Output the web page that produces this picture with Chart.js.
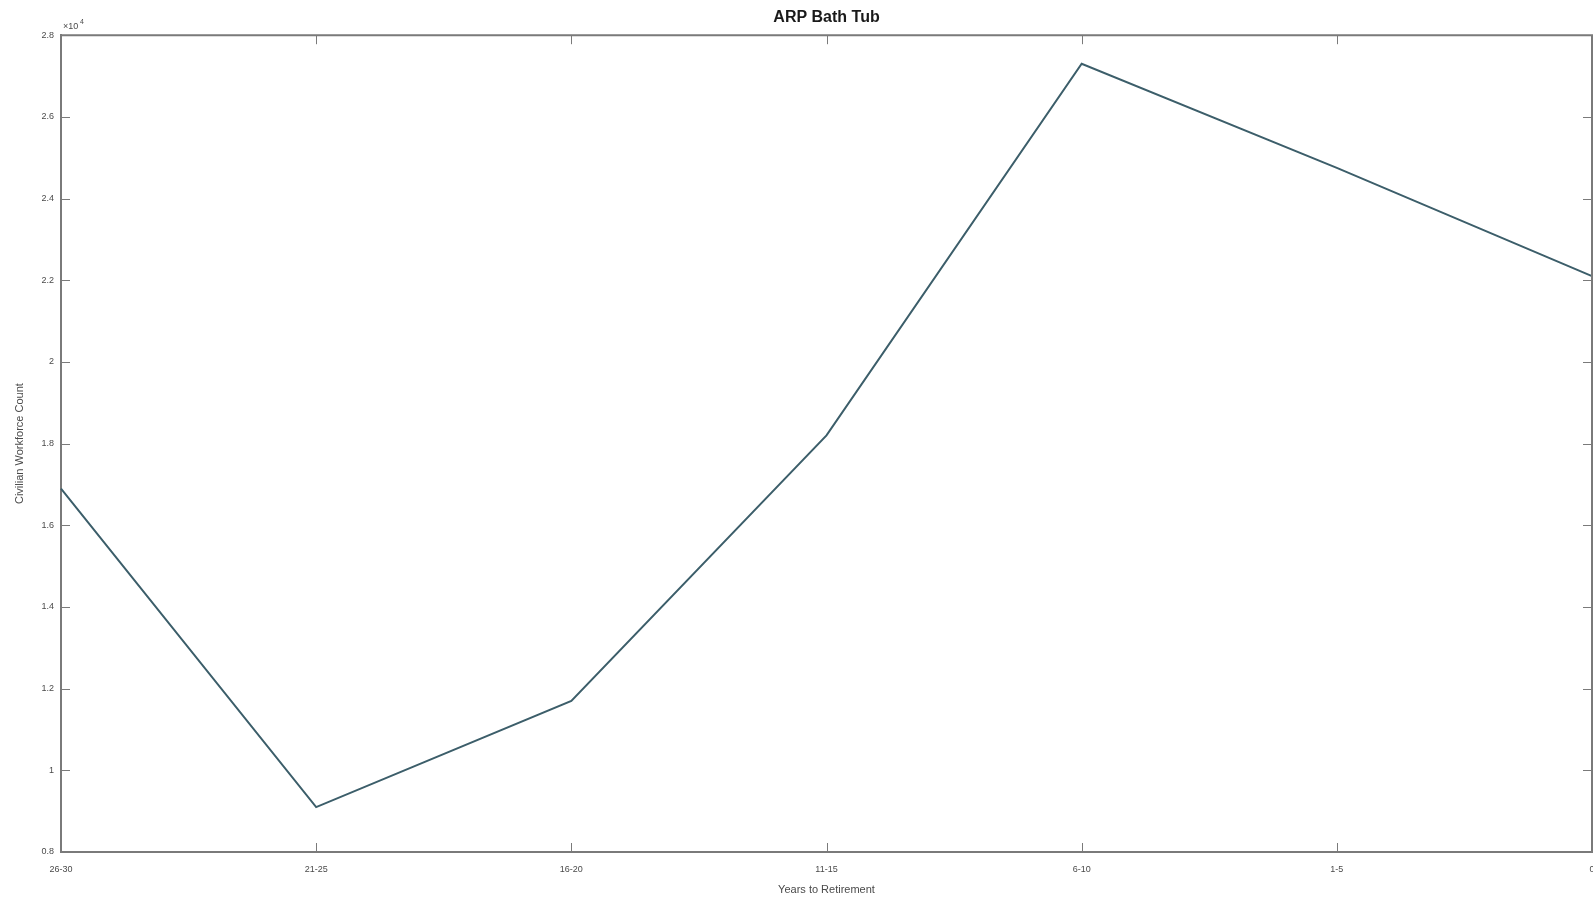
<!DOCTYPE html>
<html>
<head>
<meta charset="utf-8">
<title>ARP Bath Tub</title>
<script src="https://cdn.jsdelivr.net/npm/chart.js@4.4.1/dist/chart.umd.min.js"></script>
<style>
  html, body { margin: 0; padding: 0; background: #fff; }
  #wrap { width: 1593px; height: 903px; }
</style>
</head>
<body>
<div id="wrap"><canvas id="chart" width="1593" height="903"></canvas></div>
<script>
// categorias (anos ate a aposentadoria)
const yearBands = ["26-30", "21-25", "16-20", "11-15", "6-10", "1-5", "0"];
// contagem da forca de trabalho civil
const workforceCount = [16900, 9100, 11700, 18200, 27300, 24750, 22100];
// eixo y (x10^4)
const yMin = 8000;
const yMax = 28000;
const yStep = 2000;

const axisGray = '#7a7a7a';
const textGray = '#4a4a4a';

// caixa estilo MATLAB: linhas de cima/direita e ticks para dentro
const boxPlugin = {
  id: 'matlabBox',
  afterDraw(chart) {
    const { ctx, chartArea: a, scales } = chart;
    ctx.save();
    ctx.strokeStyle = axisGray;
    ctx.lineWidth = 2;
    ctx.beginPath();
    ctx.moveTo(a.left, a.top);
    ctx.lineTo(a.right, a.top);
    ctx.lineTo(a.right, a.bottom);
    ctx.stroke();

    ctx.lineWidth = 1;
    ctx.beginPath();
    scales.y.ticks.forEach((t, i) => {
      const py = Math.round(scales.y.getPixelForTick(i)) + 0.5;
      ctx.moveTo(a.left, py); ctx.lineTo(a.left + 9, py);
      ctx.moveTo(a.right, py); ctx.lineTo(a.right - 9, py);
    });
    scales.x.ticks.forEach((t, i) => {
      const px = Math.round(scales.x.getPixelForTick(i)) + 0.5;
      ctx.moveTo(px, a.bottom); ctx.lineTo(px, a.bottom - 9);
      ctx.moveTo(px, a.top); ctx.lineTo(px, a.top + 9);
    });
    ctx.stroke();

    // multiplicador do eixo y
    ctx.fillStyle = textGray;
    ctx.font = '9px "Liberation Sans", Arial, sans-serif';
    ctx.textBaseline = 'alphabetic';
    ctx.textAlign = 'left';
    ctx.fillText('\u00d710', a.left + 2, a.top - 6);
    ctx.font = '7px "Liberation Sans", Arial, sans-serif';
    ctx.fillText('4', a.left + 19, a.top - 11);
    ctx.restore();
  }
};

const ctx = document.getElementById('chart').getContext('2d');

new Chart(ctx, {
  type: 'line',
  data: {
    labels: yearBands,
    datasets: [{
      label: 'Civilian Workforce Count',
      data: workforceCount,
      borderColor: '#3c5e6a',
      borderWidth: 2,
      pointRadius: 0,
      tension: 0,
      fill: false
    }]
  },
  options: {
    responsive: false,
    animation: false,
    layout: { padding: { left: 0, right: 1, top: 0, bottom: 0 } },
    plugins: {
      legend: { display: false },
      tooltip: { enabled: false },
      title: {
        display: true,
        text: 'ARP Bath Tub',
        fullSize: false,
        color: '#1a1a1a',
        font: { family: '"Liberation Sans", Arial, sans-serif', size: 16, weight: 'bold' },
        padding: { top: 8, bottom: 8 }
      }
    },
    scales: {
      x: {
        type: 'category',
        offset: false,
        grid: { display: false, drawTicks: false, offset: false },
        border: { display: true, color: axisGray, width: 2 },
        ticks: {
          color: textGray,
          font: { family: '"Liberation Sans", Arial, sans-serif', size: 9 },
          padding: 12,
          maxRotation: 0,
          autoSkip: false
        },
        title: {
          display: true,
          text: 'Years to Retirement',
          color: textGray,
          font: { family: '"Liberation Sans", Arial, sans-serif', size: 11 },
          padding: { top: 6, bottom: 6 }
        },
        afterFit(scale) {
          scale.height = 51;
          scale.paddingLeft = 0;
          scale.paddingRight = 0;
        }
      },
      y: {
        min: yMin,
        max: yMax,
        grid: { display: false, drawTicks: false },
        border: { display: true, color: axisGray, width: 2 },
        ticks: {
          stepSize: yStep,
          color: textGray,
          font: { family: '"Liberation Sans", Arial, sans-serif', size: 9 },
          padding: 7,
          callback: (v) => String(Math.round(v / 1000) / 10)
        },
        title: {
          display: true,
          text: 'Civilian Workforce Count',
          color: textGray,
          font: { family: '"Liberation Sans", Arial, sans-serif', size: 11 },
          padding: { top: 13, bottom: 0 }
        },
        afterFit(scale) { scale.width = 61; }
      }
    }
  },
  plugins: [boxPlugin]
});
</script>
</body>
</html>
